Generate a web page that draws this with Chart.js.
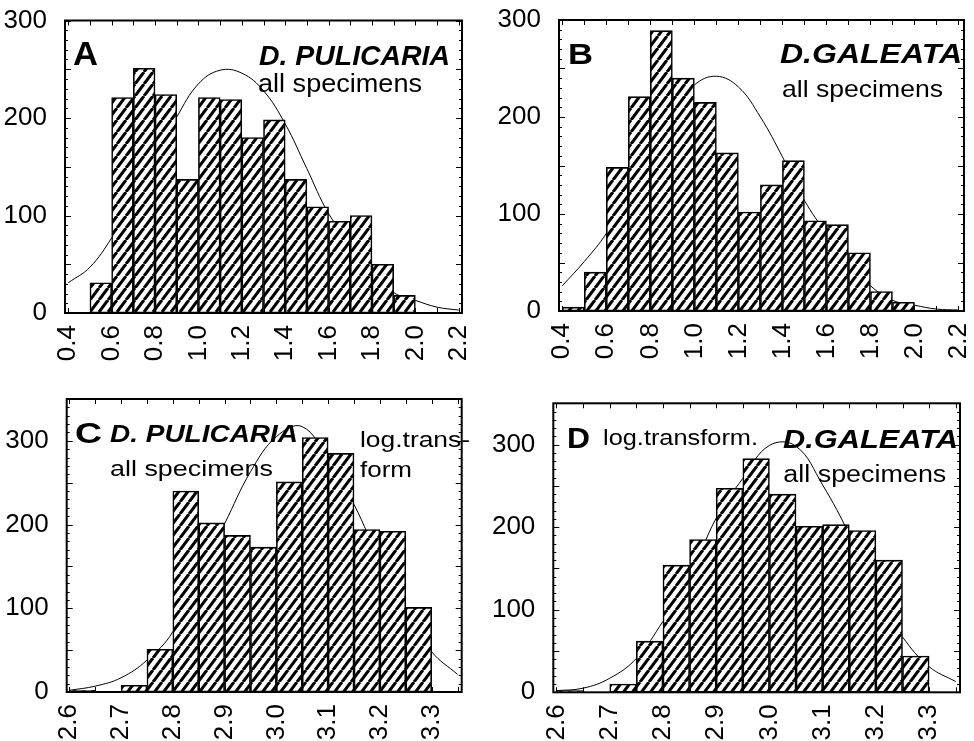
<!DOCTYPE html>
<html>
<head>
<meta charset="utf-8">
<script src="https://cdn.jsdelivr.net/npm/chart.js@4/dist/chart.umd.min.js"></script>
<style>
  body { margin: 0; background: #fff; }
  canvas { position: absolute; }
</style>
</head>
<body>
<canvas id="pA" width="487" height="370" style="left:0;top:0"></canvas>
<canvas id="pB" width="487" height="370" style="left:487px;top:0"></canvas>
<canvas id="pC" width="487" height="371" style="left:0;top:370px"></canvas>
<canvas id="pD" width="487" height="371" style="left:487px;top:370px"></canvas>
<script>
// histogram bins (bin centres) and counts
const binsAB = [0.45, 0.55, 0.65, 0.75, 0.85, 0.95, 1.05, 1.15, 1.25, 1.35, 1.45, 1.55, 1.65, 1.75, 1.85, 1.95, 2.05, 2.15];
const countsA = [0, 31, 221, 251, 224, 137, 221, 219, 180, 198, 137, 109, 94, 100, 50, 18, 0, 0];
const countsB = [4, 40, 148, 221, 289, 240, 215, 163, 102, 130, 155, 93, 89, 60, 20, 9, 1, 1];

const binsCD = [2.625, 2.675, 2.725, 2.775, 2.825, 2.875, 2.925, 2.975, 3.025, 3.075, 3.125, 3.175, 3.225, 3.275, 3.325];
const countsC = [2, 0, 8, 51, 240, 202, 187, 173, 251, 304, 285, 194, 192, 101, 0];
const countsD = [2, 0, 10, 62, 154, 185, 247, 283, 240, 201, 203, 196, 160, 44, 0];

// fitted curves
const curveXAB = [0.4, 0.5, 0.6, 0.7, 0.8, 0.9, 1.0, 1.1, 1.2, 1.3, 1.4, 1.5, 1.6, 1.7, 1.8, 1.9, 2.0, 2.1, 2.2];
const curveA = [31, 47, 77, 115, 160, 201, 235, 249, 246, 228, 194, 148, 102, 72, 43, 21, 13, 6, 3];
const curveB = [26, 51, 80, 120, 166, 204, 233, 242, 231, 200, 159, 114, 80, 50, 26, 11, 6, 2, 1];

const curveXCD = [2.6, 2.65, 2.7, 2.75, 2.8, 2.85, 2.9, 2.95, 3.0, 3.05, 3.1, 3.15, 3.2, 3.25, 3.3, 3.35];
const curveC = [2, 7, 17, 38, 72, 140, 201, 263, 305, 317, 277, 224, 156, 96, 48, 21];
const curveD = [2, 5, 17, 41, 86, 139, 211, 259, 299, 298, 251, 191, 118, 67, 31, 13];

// tick labels
const xTicksAB = [0.4, 0.6, 0.8, 1.0, 1.2, 1.4, 1.6, 1.8, 2.0, 2.2];
const xTicksCD = [2.6, 2.7, 2.8, 2.9, 3.0, 3.1, 3.2, 3.3];
const yTicks = [0, 100, 200, 300];

function hatch() {
  const w = 9, h = 12;
  const c = document.createElement('canvas');
  c.width = w; c.height = h;
  const g = c.getContext('2d');
  g.fillStyle = '#fff';
  g.fillRect(0, 0, w, h);
  g.strokeStyle = '#000';
  g.lineWidth = 3.1;
  g.beginPath();
  for (const k of [-w, 0, w]) {
    g.moveTo(k, h);
    g.lineTo(k + w, 0);
  }
  g.stroke();
  return g.createPattern(c, 'repeat');
}

function pts(xs, ys) {
  return xs.map((x, i) => ({ x: x, y: ys[i] }));
}

const boxPlugin = {
  id: 'box',
  afterDatasetsDraw(chart) {
    const o = chart.options.plugins.box;
    const ctx = chart.ctx;
    const a = chart.chartArea;
    const xs = chart.scales.x, ys = chart.scales.y;
    ctx.save();
    ctx.strokeStyle = '#000';
    ctx.lineWidth = 1;
    ctx.beginPath();
    for (let v = Math.ceil(xs.min / o.xStep - 1e-6) * o.xStep; v <= xs.max + 1e-6; v += o.xStep) {
      const px = Math.round(xs.getPixelForValue(v)) + 0.5;
      ctx.moveTo(px, a.bottom); ctx.lineTo(px, a.bottom - 5);
      ctx.moveTo(px, a.top); ctx.lineTo(px, a.top + 5);
    }
    for (let v = 0; v <= ys.max + 1e-6; v += 10) {
      const py = Math.round(ys.getPixelForValue(v)) + 0.5;
      const len = v % 50 === 0 ? 6 : 3;
      ctx.moveTo(a.left, py); ctx.lineTo(a.left + len, py);
      ctx.moveTo(a.right, py); ctx.lineTo(a.right - len, py);
    }
    ctx.stroke();
    ctx.lineWidth = 2;
    ctx.strokeRect(a.left, a.top, a.right - a.left, a.bottom - a.top);
    ctx.fillStyle = '#000';
    ctx.textBaseline = 'alphabetic';
    for (const t of o.texts) {
      ctx.font = t.font;
      const w = ctx.measureText(t.text).width;
      ctx.save();
      ctx.translate(t.x, t.y);
      ctx.scale(t.w / w, 1);
      ctx.fillText(t.text, 0, 0);
      ctx.restore();
    }
    ctx.restore();
  }
};

function makeHistogram(id, bins, counts, cx, cy, cfg) {
  const ctx = document.getElementById(id).getContext('2d');
  return new Chart(ctx, {
    type: 'bar',
    data: {
      datasets: [{
        type: 'bar',
        data: pts(bins, counts),
        backgroundColor: hatch(),
        borderColor: '#000',
        borderWidth: 1.6,
        borderSkipped: false,
        barPercentage: 1,
        categoryPercentage: 1,
        order: 1
      }, {
        type: 'line',
        data: pts(cx, cy),
        borderColor: '#000',
        borderWidth: 1,
        pointRadius: 0,
        tension: 0.4,
        fill: false,
        order: 2
      }]
    },
    options: {
      responsive: false,
      animation: false,
      devicePixelRatio: 1,
      layout: { padding: { left: 0, top: cfg.top, right: cfg.right, bottom: 0 } },
      plugins: {
        legend: { display: false },
        tooltip: { enabled: false },
        box: { xStep: cfg.xStep, texts: cfg.texts }
      },
      scales: {
        x: {
          type: 'linear',
          min: cfg.xMin,
          max: cfg.xMax,
          offset: false,
          grid: { display: false, offset: false },
          border: { display: false },
          afterBuildTicks: s => { s.ticks = cfg.xTicks.map(v => ({ value: v })); },
          afterFit: s => {
            s.height = cfg.xHeight;
            s.paddingLeft = 0; s.paddingRight = 0; s.paddingTop = 0; s.paddingBottom = 0;
          },
          ticks: {
            color: '#000',
            font: { family: '"Liberation Sans", Arial, sans-serif', size: 26 },
            minRotation: 90,
            maxRotation: 90,
            padding: 4,
            autoSkip: false,
            callback: v => v.toFixed(1)
          }
        },
        y: {
          min: 0,
          max: cfg.yMax,
          grid: { display: false },
          border: { display: false },
          afterBuildTicks: s => { s.ticks = yTicks.map(v => ({ value: v })); },
          afterFit: s => {
            s.width = cfg.yWidth;
            s.paddingLeft = 0; s.paddingRight = 0; s.paddingTop = 0; s.paddingBottom = 0;
          },
          ticks: {
            color: '#000',
            font: { family: '"Liberation Sans", Arial, sans-serif', size: 26 },
            padding: 10,
            callback: v => String(v)
          }
        }
      }
    },
    plugins: [boxPlugin]
  });
}

const bi = sz => 'italic bold ' + sz + 'px "Liberation Sans", Arial, sans-serif';
const reg = sz => sz + 'px "Liberation Sans", Arial, sans-serif';
const bold = sz => 'bold ' + sz + 'px "Liberation Sans", Arial, sans-serif';

makeHistogram('pA', binsAB, countsA, curveXAB, curveA, {
  top: 20.5, right: 25, yWidth: 65, xHeight: 57, yMax: 300,
  xMin: 0.385, xMax: 2.215, xStep: 0.1, xTicks: xTicksAB,
  texts: [
    { text: 'A', x: 73, y: 65, font: bold(34), w: 25 },
    { text: 'D. PULICARIA', x: 259, y: 65, font: bi(28), w: 191 },
    { text: 'all specimens', x: 258, y: 92, font: reg(25), w: 164 }
  ]
});

makeHistogram('pB', binsAB, countsB, curveXAB, curveB, {
  top: 20, right: 10, yWidth: 72, xHeight: 59, yMax: 300,
  xMin: 0.385, xMax: 2.225, xStep: 0.1, xTicks: xTicksAB,
  texts: [
    { text: 'B', x: 81, y: 64, font: bold(30), w: 25 },
    { text: 'D.GALEATA', x: 293, y: 63, font: bi(28), w: 182 },
    { text: 'all specimens', x: 295, y: 97, font: reg(24), w: 161 }
  ]
});

makeHistogram('pC', binsCD, countsC, curveXCD, curveC, {
  top: 29, right: 25.3, yWidth: 66.7, xHeight: 49, yMax: 350,
  xMin: 2.595, xMax: 3.358, xStep: 0.05, xTicks: xTicksCD,
  texts: [
    { text: 'C', x: 75, y: 73, font: bold(29), w: 27 },
    { text: 'D. PULICARIA', x: 110, y: 72, font: bi(24), w: 188 },
    { text: 'all specimens', x: 110, y: 105.7, font: reg(22), w: 163 },
    { text: 'log.trans-', x: 360, y: 76.7, font: reg(22), w: 110 },
    { text: 'form', x: 360, y: 106.7, font: reg(22), w: 52 }
  ]
});

makeHistogram('pD', binsCD, countsD, curveXCD, curveD, {
  top: 33.3, right: 14, yWidth: 66.3, xHeight: 48.7, yMax: 350,
  xMin: 2.594, xMax: 3.358, xStep: 0.05, xTicks: xTicksCD,
  texts: [
    { text: 'D', x: 80, y: 78.3, font: bold(29), w: 23 },
    { text: 'log.transform.', x: 116, y: 75, font: reg(22), w: 155 },
    { text: 'D.GALEATA', x: 296, y: 78, font: bi(26), w: 175 },
    { text: 'all specimens', x: 296.3, y: 112.3, font: reg(23), w: 163 }
  ]
});
</script>
</body>
</html>
